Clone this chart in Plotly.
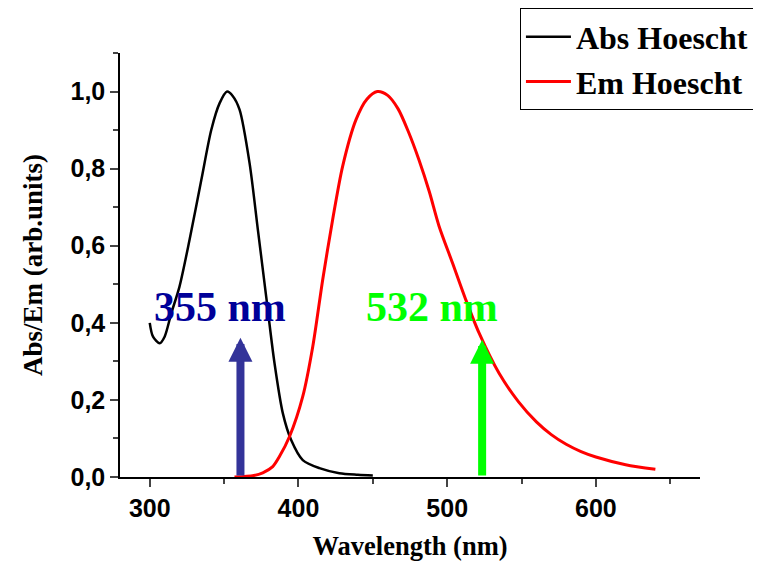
import plotly.graph_objects as go

# ---- data ----
abs_wl = [300, 302.2, 306.7, 310, 314.5, 320, 326.8, 334.7, 341.4, 347, 352, 355.9,
          360.4, 367.1, 372.7, 378.3, 383.9, 389.5, 395.1, 402.9, 414.1, 427.5, 440, 450]
abs_val = [0.40, 0.364, 0.347, 0.364, 0.425, 0.494, 0.616, 0.771, 0.901, 0.97, 1.0, 0.988,
           0.953, 0.815, 0.642, 0.468, 0.295, 0.165, 0.096, 0.044, 0.023, 0.010, 0.006, 0.004]

em_wl = [357, 370, 376, 382.7, 387.2, 394, 402.9, 409.6, 416.3, 423, 429.7, 438.7, 446,
         453, 460, 467, 474, 481, 488, 494.6, 503.6, 512.5, 521.5, 534.9, 548, 560,
         570, 580, 590, 600, 620, 640]
em_val = [0.0, 0.004, 0.011, 0.027, 0.053, 0.105, 0.209, 0.338, 0.512, 0.668, 0.806, 0.927,
          0.98, 1.0, 0.99, 0.955, 0.895, 0.823, 0.74, 0.65, 0.555, 0.46, 0.373, 0.269, 0.195,
          0.143, 0.110, 0.085, 0.066, 0.052, 0.032, 0.020]

laser_wl = [361, 523.5]
laser_tip = [0.361, 0.356]
laser_colors = ["#333399", "#00FF00"]
label_text = ["355 nm", "532 nm"]
label_x = [347.3, 490]
label_y = [0.44, 0.44]
label_colors = ["#000099", "#00FF00"]

y_ticks = [0, 0.2, 0.4, 0.6, 0.8, 1.0]
x_ticks = [300, 400, 500, 600]

SERIF = "Liberation Serif, Times New Roman, serif"
SANS = "Liberation Sans, Arial, sans-serif"

fig = go.Figure()
fig.add_trace(go.Scatter(x=abs_wl, y=abs_val, mode="lines", name="Abs Hoescht",
                         line=dict(color="black", width=2.5, shape="spline", smoothing=0.8)))
fig.add_trace(go.Scatter(x=em_wl, y=em_val, mode="lines", name="Em Hoescht",
                         line=dict(color="red", width=3, shape="spline", smoothing=0.8)))

for wl, tip, c in zip(laser_wl, laser_tip, laser_colors):
    fig.add_annotation(x=wl, y=tip, ax=wl, ay=0, xref="x", yref="y", axref="x", ayref="y",
                       text="", showarrow=True, arrowhead=2, arrowsize=0.6,
                       arrowwidth=8, arrowcolor=c)

for t, lx, ly, c in zip(label_text, label_x, label_y, label_colors):
    fig.add_annotation(x=lx, y=ly, xref="x", yref="y", text="<b>%s</b>" % t, showarrow=False,
                       font=dict(family=SERIF, size=42, color=c))

# the page body adds an 8px margin, so the figure is 8px smaller than the window
fig.update_layout(
    width=753, height=555,
    margin=dict(l=112, r=61, t=45, b=86, autoexpand=False),
    paper_bgcolor="white", plot_bgcolor="white",
    separators=", ",
    showlegend=True,
    legend=dict(x=1.093, y=1.105, xanchor="right", yanchor="top",
                bordercolor="black", borderwidth=1, bgcolor="white",
                font=dict(family=SERIF, size=32, color="black", weight="bold"),
                itemwidth=45, tracegroupgap=0),
)

fig.update_xaxes(range=[280, 670], tickvals=x_ticks, ticks="outside", ticklen=8, tickwidth=1.5,
                 showline=True, linecolor="black", linewidth=1.5, showgrid=False, zeroline=False,
                 tickfont=dict(family=SANS, size=25, color="black", weight="bold"),
                 minor=dict(dtick=50, tick0=250, ticks="outside", ticklen=5, tickwidth=1.5, showgrid=False),
                 title=dict(text="<b>Wavelength (nm)</b>", font=dict(family=SERIF, size=26.5, color="black"),
                            standoff=16))
fig.update_yaxes(range=[0, 1.1], tickvals=y_ticks, tickformat=".1f", ticks="outside", ticklen=8,
                 tickwidth=1.5, showline=True, linecolor="black", linewidth=1.5, showgrid=False,
                 zeroline=False,
                 tickfont=dict(family=SANS, size=25, color="black", weight="bold"),
                 minor=dict(dtick=0.1, tick0=0, ticks="outside", ticklen=5, tickwidth=1.5, showgrid=False),
                 title=dict(text="<b>Abs/Em (arb.units)</b>", font=dict(family=SERIF, size=27, color="black"),
                            standoff=20))

fig.write_html("out.html")
